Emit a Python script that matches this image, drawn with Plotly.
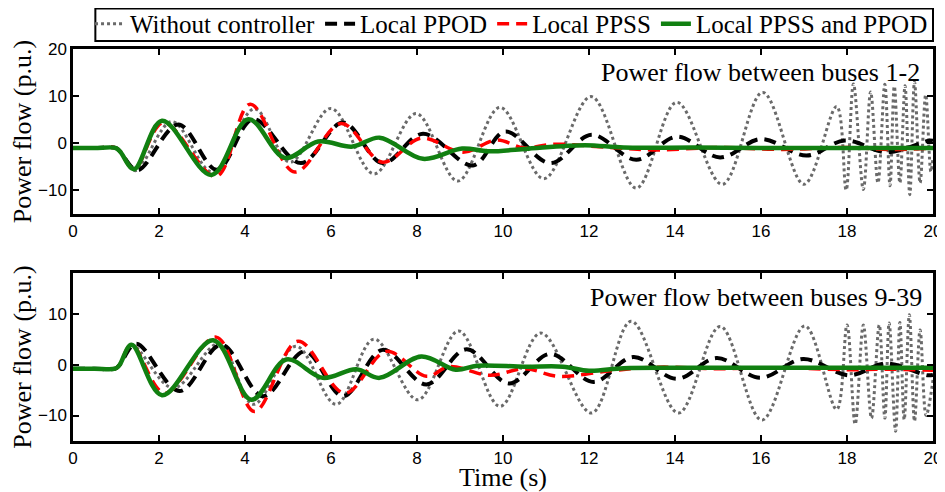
import plotly.graph_objects as go

# ---------------- Data ----------------
series_names = ["Without controller", "Local PPOD", "Local PPSS", "Local PPSS and PPOD"]
x_ticks = [0, 2, 4, 6, 8, 10, 12, 14, 16, 18, 20]
y1_ticks = [-10, 0, 10, 20]
y2_ticks = [-10, 0, 10]
panel_titles = ["Power flow between buses 1-2", "Power flow between buses 9-39"]

# Panel 1: power flow between buses 1-2
t1_none = [0, 0.5, 1.0, 1.1, 1.45, 2.3, 3.25, 4.22, 5.05, 6.0, 7.0, 7.98, 8.95, 9.93, 10.95,
           12.05, 13.1, 14.04, 15.1, 16.04, 17.0, 17.76, 17.98, 18.15, 18.38, 18.55, 18.72,
           18.88, 19.0, 19.1, 19.23, 19.35, 19.46, 19.57, 19.7, 19.83, 19.95, 20.0]
v1_none = [-1, -1, -1, -1.8, -5.8, 4.6, -6.1, 7.3, -4.0, 7.4, -6.5, 6.3, -8.0, 7.6, -7.5,
           9.9, -9.5, 8.7, -8.7, 10.8, -8.7, 7.8, -9.9, 12.6, -9.8, 10.9, -8.4,
           12.5, -9.0, 12.1, -8.4, 12.2, -10.9, 13.0, -8.4, 10.3, -6.0, -3.0]

t1_ppod = [0, 0.5, 1.0, 1.1, 1.5, 2.45, 3.35, 4.19, 5.3, 6.28, 7.2, 8.14, 9.3, 10.05, 11.1,
           12.06, 13.1, 14.04, 15.05, 16.0, 17.06, 17.95, 18.93, 19.93, 20.0]
v1_ppod = [-1, -1, -1, -1.8, -5.7, 4.0, -5.6, 5.1, -4.2, 4.4, -4.2, 2.0, -4.7, 2.5, -4.2,
           1.8, -3.5, 1.4, -3.0, 0.9, -2.6, 0.6, -1.9, 0.6, 0.5]

t1_ppss = [0, 0.5, 1.0, 1.1, 1.42, 2.1, 3.33, 4.12, 5.16, 6.24, 7.2, 8.1, 9.07, 9.85, 10.5,
           11.15, 12.5, 13.6, 15.0, 16.5, 18.0, 19.0, 20.0]
v1_ppss = [-1, -1, -1, -1.8, -5.5, 4.4, -7.0, 8.3, -6.1, 4.2, -4.0, 1.1, -1.9, 0.7, -1.0,
           -0.2, -0.9, -1.4, -0.9, -1.3, -0.9, -1.3, -1.0]

t1_both = [0, 0.5, 1.0, 1.1, 1.42, 2.07, 3.22, 4.08, 4.93, 5.7, 6.5, 7.13, 8.14, 9.05, 9.65,
           10.5, 11.9, 12.8, 14.5, 16.0, 18.0, 20.0]
v1_both = [-1, -1, -1, -1.8, -5.5, 4.8, -6.7, 5.1, -3.1, 0.4, -0.7, 1.2, -3.3, -1.1, -1.7,
           -1.2, -0.4, -0.9, -0.9, -1.0, -1.0, -1.0]

# Panel 2: power flow between buses 9-39
t2_none = [0, 0.5, 0.98, 1.08, 1.36, 2.33, 3.4, 4.19, 5.19, 6.12, 7.0, 8.02, 8.97, 9.93,
           10.88, 12.06, 12.98, 14.08, 15.05, 16.02, 17.02, 17.76, 18.0, 18.19, 18.38, 18.57,
           18.75, 18.88, 18.98, 19.13, 19.23, 19.33, 19.45, 19.57, 19.7, 19.84, 20.0]
v2_none = [-0.8, -0.8, -0.8, -0.1, 3.9, -4.6, 4.1, -7.8, 3.6, -7.8, 5.0, -6.9, 6.6, -8.2,
           6.2, -9.5, 8.5, -9.5, 7.5, -10.9, 7.6, -8.8, 7.8, -11.7, 7.8, -10.5,
           7.8, -10.5, 8.2, -13.1, 8.3, -10.8, 9.8, -11.1, 6.8, -10.0, -3.0]

t2_ppod = [0, 0.5, 0.98, 1.08, 1.47, 2.48, 3.45, 4.42, 5.39, 6.28, 7.2, 8.22, 9.15, 10.14,
           11.1, 12.1, 13.03, 14.04, 14.97, 15.98, 16.98, 18.05, 18.9, 19.88, 20.0]
v2_ppod = [-0.8, -0.8, -0.8, -0.1, 4.1, -5.2, 3.9, -6.2, 2.6, -6.2, 2.9, -3.9, 3.0, -3.7,
           2.1, -3.4, 1.5, -2.8, 1.3, -2.6, 1.1, -2.1, 0.2, -2.1, -2.0]

t2_ppss = [0, 0.5, 0.98, 1.08, 1.36, 2.13, 3.33, 4.22, 5.23, 6.32, 7.29, 8.22, 8.75, 9.7,
           10.5, 11.3, 12.5, 13.6, 15.0, 16.5, 18.0, 19.0, 20.0]
v2_ppss = [-0.8, -0.8, -0.8, -0.1, 3.9, -5.6, 5.4, -9.2, 4.6, -5.6, 2.6, -2.3, -0.4, -2.1,
           -0.8, -2.3, -1.2, -0.5, -0.8, -0.6, -1.0, -0.9, -1.1]

t2_both = [0, 0.5, 0.98, 1.08, 1.36, 2.07, 3.26, 4.15, 4.96, 5.81, 6.59, 7.13, 8.1, 8.9,
           9.4, 10.5, 11.4, 12.0, 12.8, 14.0, 16.0, 18.0, 20.0]
v2_both = [-0.8, -0.8, -0.8, -0.1, 3.9, -6.0, 4.8, -6.9, 1.0, -2.6, -0.9, -2.6, 1.6, -1.0,
           -0.2, -0.4, -0.4, -1.2, -0.7, -0.6, -0.6, -0.6, -0.6]

# ---------------- Styles ----------------
SERIF = "Liberation Serif"
SANS = "Liberation Sans"
styles = [
    dict(color="#6a6a6a", width=3, dash="dot"),
    dict(color="#000000", width=4, dash="12px,7px"),
    dict(color="#ff0000", width=3.5, dash="12px,7px"),
    dict(color="#118011", width=4.5, dash="solid"),
]

panel1 = [(t1_none, v1_none), (t1_ppod, v1_ppod), (t1_ppss, v1_ppss), (t1_both, v1_both)]
panel2 = [(t2_none, v2_none), (t2_ppod, v2_ppod), (t2_ppss, v2_ppss), (t2_both, v2_both)]

fig = go.Figure()
for i, (t, v) in enumerate(panel1):
    fig.add_trace(go.Scatter(x=t, y=v, mode="lines", name=series_names[i],
                             line=dict(shape="spline", smoothing=1.0, **styles[i]),
                             legendgroup=str(i), xaxis="x", yaxis="y"))
for i, (t, v) in enumerate(panel2):
    fig.add_trace(go.Scatter(x=t, y=v, mode="lines", name=series_names[i],
                             line=dict(shape="spline", smoothing=1.0, **styles[i]),
                             legendgroup=str(i), showlegend=False, xaxis="x2", yaxis="y2"))

axis_common = dict(
    showline=True, linewidth=2.5, linecolor="black", mirror="ticks",
    ticks="inside", ticklen=6, tickwidth=2, tickcolor="black",
    showgrid=False, zeroline=False, automargin=False,
    tickfont=dict(family=SANS, size=17, color="black"),
)

# The page body adds an 8px offset, so the figure is sized to fit the 945x492 window.
fig.update_layout(
    width=937, height=484,
    margin=dict(l=65, r=12, t=41, b=51, autoexpand=False),
    paper_bgcolor="white", plot_bgcolor="white",
    font=dict(family=SERIF, color="black"),
    xaxis=dict(domain=[0, 1], anchor="y", range=[0, 20], tickvals=x_ticks, **axis_common),
    yaxis=dict(domain=[0.579, 1], anchor="x", range=[-15, 20], tickvals=y1_ticks,
               title=dict(text="Power flow (p.u.)", font=dict(family=SERIF, size=26, color="black"),
                          standoff=1), **axis_common),
    xaxis2=dict(domain=[0, 1], anchor="y2", range=[0, 20], tickvals=x_ticks,
                title=dict(text="Time (s)", font=dict(family=SERIF, size=26, color="black"),
                           standoff=4), **axis_common),
    yaxis2=dict(domain=[0, 0.4286], anchor="x2", range=[-15, 18], tickvals=y2_ticks,
                title=dict(text="Power flow (p.u.)", font=dict(family=SERIF, size=26, color="black"),
                           standoff=1), **axis_common),
    legend=dict(orientation="h", x=0.0198, xanchor="left", y=1.0638, yanchor="middle",
                bgcolor="rgba(0,0,0,0)", borderwidth=0,
                font=dict(family=SERIF, size=25, color="black"),
                itemwidth=30, tracegroupgap=0),
    showlegend=True,
)

# Legend frame (drawn as a box behind the legend entries)
fig.add_shape(type="rect", xref="paper", yref="paper",
              x0=0.026, x1=1.0, y0=1.0204, y1=1.1033,
              line=dict(color="black", width=2), fillcolor="white", layer="above")

fig.add_annotation(text=panel_titles[0], xref="paper", yref="paper", x=0.987, y=0.939,
                   xanchor="right", yanchor="middle", showarrow=False,
                   font=dict(family=SERIF, size=26, color="black"))
fig.add_annotation(text=panel_titles[1], xref="paper", yref="paper", x=0.99, y=0.367,
                   xanchor="right", yanchor="middle", showarrow=False,
                   font=dict(family=SERIF, size=26, color="black"))

fig.write_html("out.html")
